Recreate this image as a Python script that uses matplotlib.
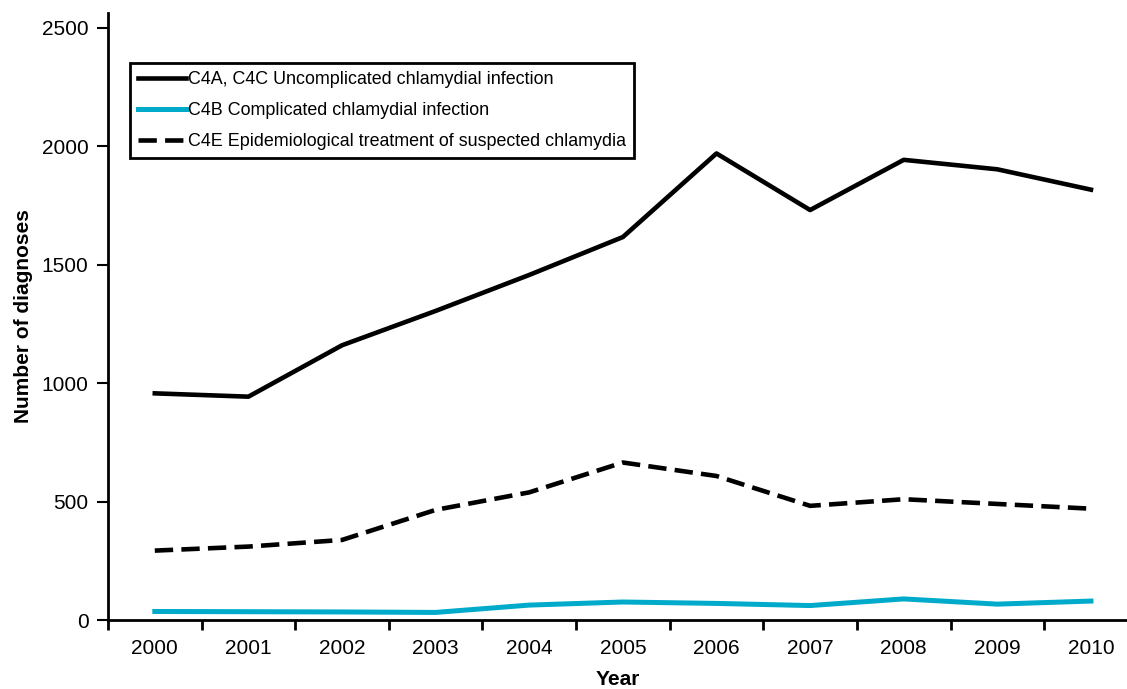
import numpy as np
import matplotlib
matplotlib.use('Agg')
import matplotlib.pyplot as plt

plt.rcParams['font.family'] = ['Liberation Sans', 'DejaVu Sans']

years = ['2000', '2001', '2002', '2003', '2004', '2005', '2006', '2007', '2008', '2009', '2010']
uncomplicated = [957, 943, 1160, 1305, 1457, 1617, 1970, 1731, 1943, 1903, 1817]
complicated = [36, 35, 34, 32, 63, 76, 70, 61, 89, 67, 80]
epidemiological = [293, 310, 338, 465, 539, 665, 608, 482, 510, 490, 470]

labels = ['C4A, C4C Uncomplicated chlamydial infection',
          'C4B Complicated chlamydial infection',
          'C4E Epidemiological treatment of suspected chlamydia']

fig = plt.figure(figsize=(11.27, 6.89), dpi=100)
ax = fig.add_axes([108 / 1127, 69 / 689, 1 - 108 / 1127, 607 / 689])

x = np.arange(len(years))
ax.plot(x, uncomplicated, color='black', lw=3.3, label=labels[0])
ax.plot(x, complicated, color='#00AACB', lw=3.6, label=labels[1])
ax.plot(x, epidemiological, color='black', lw=3.3, dashes=(4, 1.8), label=labels[2])

ax.set_xlim(-0.5, 10.385)
ax.set_ylim(0, 2563)

# ticks between categories, labels centred on them
ax.set_xticks(np.arange(-0.5, 10.5, 1.0))
ax.set_xticklabels([])
ax.set_xticks(x, minor=True)
ax.set_xticklabels(years, minor=True, fontsize=15)
ax.tick_params(axis='x', which='minor', length=0, pad=14)
ax.tick_params(axis='x', which='major', length=7, width=2, direction='out')

ax.set_yticks([0, 500, 1000, 1500, 2000, 2500])
ax.tick_params(axis='y', length=8, width=1.5, direction='out', labelsize=15, pad=6)

for s in ['top', 'right']:
    ax.spines[s].set_visible(False)
for s in ['left', 'bottom']:
    ax.spines[s].set_linewidth(2)

ax.set_xlabel('Year', fontsize=15, fontweight='bold', labelpad=8.5)
ax.set_ylabel('Number of diagnoses', fontsize=15, fontweight='bold', labelpad=6)

leg = ax.legend(loc='upper left', bbox_to_anchor=(0.0216, 0.918), borderaxespad=0,
                fontsize=12.9, fancybox=False, edgecolor='black', framealpha=1,
                handlelength=2.7, handletextpad=0.1, labelspacing=0.78,
                borderpad=0.45)
leg.get_frame().set_linewidth(2)

fig.savefig('out.png', dpi=100)
